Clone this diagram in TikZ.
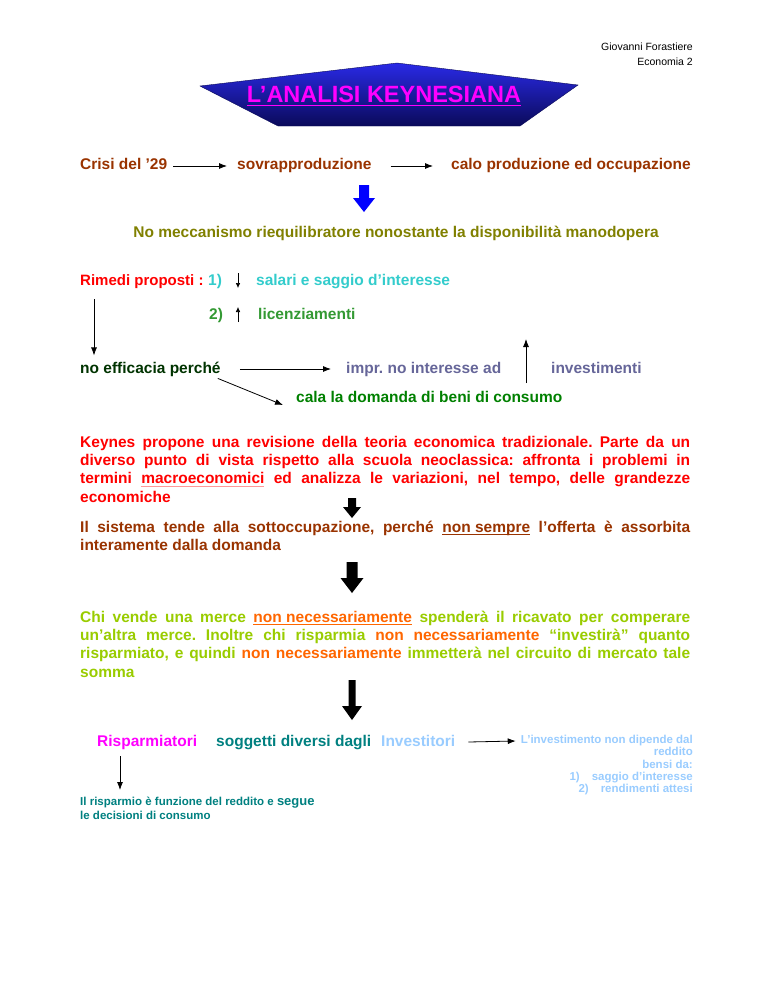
\documentclass[tikz,border=0pt]{standalone}
\usepackage{fontspec}
\setmainfont{Liberation Sans}
\usepackage{xcolor}
\usetikzlibrary{arrows.meta}

\definecolor{brownred}{HTML}{993300}
\definecolor{olivegr}{HTML}{808000}
\definecolor{keyred}{HTML}{FF0000}
\definecolor{cyanq}{HTML}{33CCCC}
\definecolor{licgreen}{HTML}{339933}
\definecolor{darkgr}{HTML}{003300}
\definecolor{greyblue}{HTML}{666699}
\definecolor{calagreen}{HTML}{008000}
\definecolor{limegr}{HTML}{99CC00}
\definecolor{orng}{HTML}{FF6600}
\definecolor{magen}{HTML}{FF00FF}
\definecolor{tealc}{HTML}{008080}
\definecolor{skyb}{HTML}{99CCFF}
\definecolor{ulpink}{HTML}{FF9999}
\definecolor{bannertop}{HTML}{2A2AE6}
\definecolor{bannerbot}{HTML}{0A0A5A}

% coloured underline: colour, text
\newcommand\ulc[2]{\setbox0\hbox{#2}\rlap{\textcolor{#1}{\rule[-2.6pt]{\wd0}{0.8pt}}}\box0\relax}
\hyphenpenalty=10000
\exhyphenpenalty=10000
\frenchspacing

% block arrow: colour, x, top, tip, half shaft, half head, head length
\newcommand\blockarrow[7]{\fill[#1] (#2-#5,#3) -- (#2+#5,#3) -- (#2+#5,#4-#7) -- (#2+#6,#4-#7) -- (#2,#4) -- (#2-#6,#4-#7) -- (#2-#5,#4-#7) -- cycle;}

\begin{document}
\begin{tikzpicture}[x=1pt,y=-1pt,>={Latex[length=8pt,width=6pt]},
  txt/.style={anchor=base west,inner sep=0pt,font=\bfseries\fontsize{15.5}{18}\selectfont},
  para/.style={anchor=north west,inner sep=0pt,text width=610pt,align=justify,font=\bfseries\fontsize{15.5}{18.2}\selectfont},
  note/.style={inner sep=0pt,font=\bfseries\fontsize{11.5}{12.3}\selectfont},
  link/.style={->,line width=0.8pt}]
\useasboundingbox (0,0) rectangle (768,994);

% header
\node[anchor=east,inner sep=0pt,font=\fontsize{10.5}{11}\selectfont] (autore) at (693,47) {Giovanni Forastiere};
\node[anchor=east,inner sep=0pt,font=\fontsize{10.5}{11}\selectfont] (corso) at (693,62) {Economia 2};

% banner
\shade[top color=bannertop,bottom color=bannerbot,draw=bannerbot,line width=0.4pt] (200,86) -- (397,63) -- (578,85) -- (520,126) -- (278,126) -- cycle;
\node[inner sep=0pt,text=magen,font=\bfseries\fontsize{23.5}{26}\selectfont] (titolo) at (384,96) {\ulc{magen}{L’ANALISI KEYNESIANA}};

% crisi
\node[txt,text=brownred] (crisi) at (80,169) {Crisi del ’29};
\node[txt,text=brownred] (sovra) at (237,169) {sovrapproduzione};
\node[txt,text=brownred] (calo) at (451,169) {calo produzione ed occupazione};
\draw[link] ([xshift=6pt,yshift=3pt]crisi.base east) -- ([xshift=-10pt,yshift=3pt]sovra.base west);
\draw[link] ([xshift=19pt,yshift=3pt]sovra.base east) -- ([xshift=-18pt,yshift=3pt]calo.base west);
\blockarrow{blue}{364}{185}{212}{5}{11}{14}
\node[txt,anchor=base,text=olivegr] (nomecc) at (396,237) {No meccanismo riequilibratore nonostante la disponibilità manodopera};

% rimedi
\node[txt,text=keyred,font=\bfseries\fontsize{15}{18}\selectfont] (rimedi) at (80,285) {Rimedi proposti :};
\node[txt,text=cyanq] (uno) at (208,285) {1)};
\node[txt,text=cyanq] (salari) at (256,285) {salari e saggio d’interesse};
\node[txt,text=licgreen] (due) at (209,319) {2)};
\node[txt,text=licgreen] (licenz) at (258,319) {licenziamenti};
\coordinate (giu1) at (238,273);
\coordinate (giu2) at (238,288);
\coordinate (su1) at (238,322);
\coordinate (su2) at (238,307);
\draw[link,line width=0.6pt,>={Latex[length=5pt,width=4.5pt]}] (giu1) -- (giu2);
\draw[link,line width=0.6pt,>={Latex[length=5pt,width=4.5pt]}] (su1) -- (su2);

\node[txt,text=darkgr] (efficacia) at (80,373) {no efficacia perché};
\node[txt,text=greyblue] (impr) at (346,373) {impr. no interesse ad};
\node[txt,text=greyblue] (invest) at (551,373) {investimenti};
\node[txt,text=calagreen] (cala) at (296,402) {cala la domanda di beni di consumo};
\coordinate (sub) at (526,383);
\coordinate (sut) at (526,339);
\draw[link] ([xshift=14pt,yshift=-11pt]rimedi.south west) -- ([xshift=14pt,yshift=6pt]efficacia.north west);
\draw[link] ([xshift=19pt,yshift=4pt]efficacia.base east) -- ([xshift=-15pt,yshift=4pt]impr.base west);
\draw[link] (sub) -- (sut);
\draw[link] ([xshift=-3pt,yshift=-2pt]efficacia.south east) -- ([xshift=-13pt,yshift=-3pt]cala.base west);

% paragrafi
\node[para,text=keyred] (keynes) at (80,436) {Keynes propone una revisione della teoria economica tradizionale. Parte da un\linebreak diverso punto di vista rispetto alla scuola neoclassica: affronta i problemi in\linebreak termini \ulc{ulpink}{macroeconomici} ed analizza le variazioni, nel tempo, delle grandezze\linebreak economiche};
\blockarrow{black}{352}{498}{518}{4}{9}{11}
\node[para,text=brownred] (sistema) at (80,521) {Il sistema tende alla sottoccupazione, perché \ulc{brownred}{non sempre} l’offerta è assorbita\linebreak interamente dalla domanda};
\blockarrow{black}{352}{562}{593}{5.5}{11.5}{15}
\node[para,text=limegr] (vende) at (80,611) {Chi vende una merce {\color{orng}\ulc{orng}{non necessariamente}} spenderà il ricavato per comperare\linebreak un’altra merce. Inoltre chi risparmia {\color{orng}non necessariamente} “investirà” quanto\linebreak risparmiato, e quindi {\color{orng}non necessariamente} immetterà nel circuito di mercato tale\linebreak somma};
\blockarrow{black}{352}{680}{720}{3.5}{10}{14}

% risparmiatori / investitori
\node[txt,text=magen] (risp) at (97,746) {Risparmiatori};
\node[txt,text=tealc] (sogg) at (216,746) {soggetti diversi dagli};
\node[txt,text=skyb] (invt) at (381,746) {Investitori};
\node[note,anchor=north east,align=right,text=skyb] (invnote) at (693,735) {L’investimento non dipende dal\\reddito\\bensi da:\\1)\hspace{12pt}saggio d’interesse\\2)\hspace{12pt}rendimenti attesi};
\node[note,anchor=north west,align=left,text=tealc,font=\bfseries\fontsize{11.5}{14}\selectfont] (rispnote) at (80,797) {Il risparmio è funzione del reddito e {\fontsize{13}{14}\selectfont segue}\\le decisioni di consumo};
\draw[link] ([xshift=13pt,yshift=4pt]invt.base east) -- ([xshift=-5pt,yshift=-6pt]invnote.north west);
\draw[link] ([xshift=23pt,yshift=-7pt]risp.south west) -- ([xshift=40pt,yshift=7pt]rispnote.north west);
\end{tikzpicture}
\end{document}
